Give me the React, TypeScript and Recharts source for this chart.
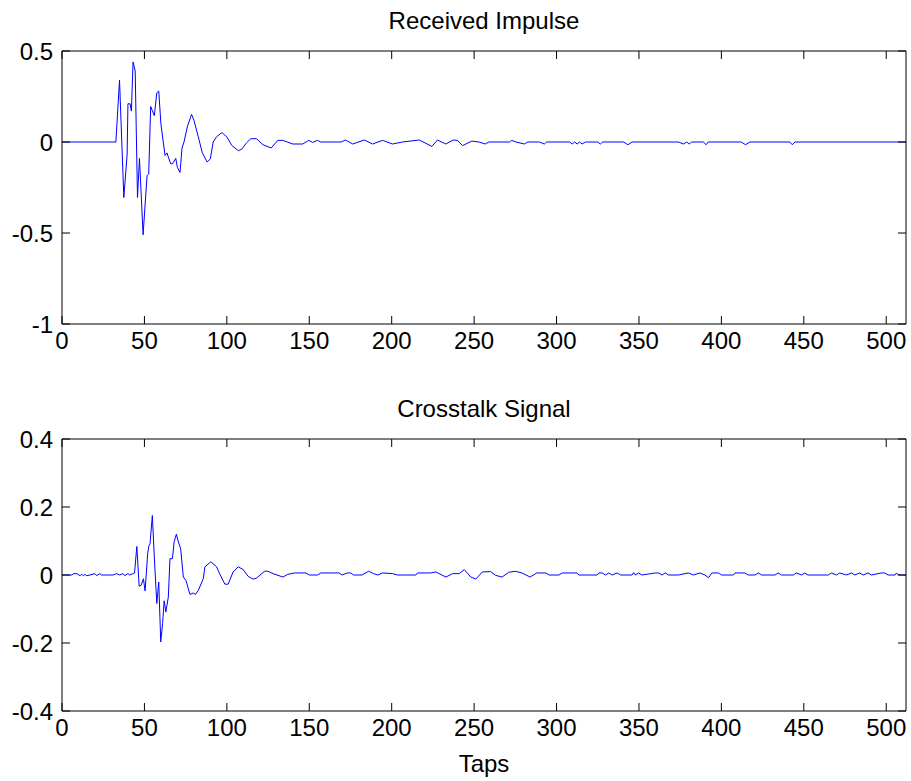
import React from 'react'
import { LineChart, Line, XAxis, YAxis } from 'recharts'

// tap positions / amplitudes
const impulseTaps = [
  0, 32.7, 34.9, 37.5, 39.5, 40, 41.3, 42.1, 43.1, 44.4,
  45.8, 47, 49.2, 51.6, 52.6, 53.8, 56, 57.5, 58.7, 60,
  62.5, 63.7, 64.5, 66, 67, 69, 70, 71.6, 72.8, 74,
  76.2, 78.6, 80, 82.7, 85, 88, 90, 91.7, 93.7, 97,
  100, 103, 107, 109, 112, 114.5, 118, 121.9, 126.9, 130.9,
  133.9, 140, 146, 149.7, 152, 155, 157, 169.3, 171.9, 176.4,
  183.4, 188.4, 194.5, 200.5, 206.6, 216.7, 224.4, 227.8, 232.8, 237.3,
  239.9, 243, 248.6, 253, 256.7, 259, 271.4, 272.8, 275.4, 280.5,
  282.5, 289.6, 292.6, 294, 308, 309.5, 311, 312.5, 314, 315.5,
  317.6, 325, 326.6, 328, 340.7, 343.3, 345.8, 374, 377, 379,
  380.5, 382, 389, 390.8, 392, 412, 414.7, 417.3, 441.5, 443,
  444.6, 512,
]
const impulseValues = [
  0, 0, 0.34, -0.305, -0.07, 0.21, 0.21, 0.17, 0.44, 0.39,
  -0.305, -0.09, -0.51, -0.185, -0.175, 0.195, 0.145, 0.27, 0.28, 0.1,
  -0.074, -0.06, -0.083, -0.12, -0.12, -0.09, -0.14, -0.167, -0.033, 0,
  0.089, 0.152, 0.12, 0.028, -0.056, -0.11, -0.093, 0, 0.028, 0.052,
  0.028, -0.019, -0.048, -0.04, -0.004, 0.018, 0.018, -0.015, -0.033, 0.009,
  0.009, -0.011, -0.011, 0.009, -0.002, 0.009, 0, 0, 0.011, -0.011,
  0.011, -0.011, 0.009, -0.011, 0, 0.011, -0.024, 0.011, -0.011, 0.011,
  0.009, -0.02, 0.005, 0, -0.011, 0, 0, 0.009, 0, -0.011,
  0, 0, -0.011, 0, 0, -0.011, 0, -0.011, 0, -0.011,
  0, 0, -0.011, 0, 0, -0.015, 0, 0, -0.011, 0,
  -0.011, 0, 0, -0.015, 0, 0, -0.015, 0, 0, -0.015,
  0, 0,
]

const crosstalkTaps = [
  0, 6, 7, 9, 11, 12, 13, 14, 15, 17,
  20, 21, 23, 24, 31, 33, 35, 37, 38, 40,
  41, 43, 44, 45.4, 46.8, 48, 49.4, 50.4, 52, 52.8,
  53.4, 54.8, 56, 57.5, 58.7, 59.9, 61, 62, 63, 64.5,
  65.5, 67, 68, 69.4, 70.6, 72, 73.6, 75.2, 77.6, 79.6,
  81, 82.7, 85.7, 86.7, 90.3, 93.8, 95.8, 98.8, 100.8, 103.8,
  106.9, 109.9, 112.9, 115.8, 117.8, 122.9, 124.9, 128, 134, 137,
  141, 148, 150, 155, 157, 168, 170, 173, 175, 177,
  182, 186, 189, 191.5, 194.5, 200.5, 203.6, 214.7, 215.7, 223.8,
  226.8, 232.9, 236.9, 241, 244, 248, 251, 255, 260, 263,
  267, 271, 275, 279, 284, 288, 293.5, 295.5, 301.5, 303.5,
  312.5, 313.6, 324.7, 325.7, 327.7, 329.7, 331.7, 333.7, 336.8, 338.8,
  345.8, 346.8, 347.8, 349.8, 351.9, 359.9, 362, 364, 366, 368,
  374, 380, 383, 387, 390, 392.2, 394.2, 398.2, 400.2, 407.3,
  408.3, 414.3, 416.3, 420.4, 422.4, 424.4, 432.5, 434.5, 436.5, 443.6,
  445.6, 448.6, 450.6, 452.7, 464.8, 466.8, 469.8, 471.8, 475.9, 478.9,
  480.9, 483.9, 486, 489, 491, 497, 499, 501.2, 505.3, 506.3,
  507.3, 512,
]
const crosstalkValues = [
  0, 0, 0.004, 0.004, -0.002, 0.002, -0.002, 0.002, -0.002, 0,
  0.004, -0.002, 0.004, 0, 0, 0.004, 0, 0.004, -0.002, 0.004,
  0, 0.004, 0.006, 0.084, -0.033, -0.03, -0.011, -0.047, 0.065, 0.087,
  0.092, 0.175, 0.053, -0.084, -0.021, -0.197, -0.143, -0.076, -0.109, -0.065,
  0.048, 0.048, 0.097, 0.12, 0.097, 0.077, -0.006, -0.016, -0.057, -0.053,
  -0.057, -0.045, -0.011, 0.024, 0.039, 0.024, 0.002, -0.027, -0.027, 0.009,
  0.024, 0.016, -0.004, -0.012, -0.01, 0.011, 0.011, 0.004, -0.006, 0.002,
  0.006, 0.006, 0, 0, 0.006, 0.006, 0, 0.006, 0.006, 0,
  0, 0.011, 0.004, 0, 0.006, 0.004, 0, 0, 0.006, 0.006,
  0.009, -0.006, 0.004, 0.004, 0.016, -0.006, -0.012, 0.009, 0.01, -0.001,
  -0.006, 0.008, 0.011, 0.006, -0.006, 0.006, 0.006, 0, 0, 0.006,
  0.006, 0, 0, 0.006, 0.006, 0, 0.006, 0, 0.006, 0,
  0, 0.007, 0, 0.006, 0, 0.006, 0.006, 0, 0.006, 0,
  0, 0.006, 0, 0.006, 0, -0.008, 0.006, 0.006, 0, 0,
  0.006, 0.006, 0, 0, 0.006, 0, 0, 0.006, 0, 0,
  0.006, 0, 0.006, 0, 0, 0.006, 0, 0.006, 0, 0.006,
  0, 0.006, 0, 0.006, 0, 0.006, 0.006, 0, 0, 0.006,
  0, 0,
]

const xTicks = [0, 50, 100, 150, 200, 250, 300, 350, 400, 450, 500]
const impulseTicks = [-1, -0.5, 0, 0.5]
const crosstalkTicks = [-0.4, -0.2, 0, 0.2, 0.4]

const FONT = '"Liberation Sans", Arial, sans-serif'
const tickStyle = { fill: '#000', fontSize: 24, fontFamily: FONT }
// top/right axes only carry tick marks, no labels
const noLabel = () => <g />
const axisLine = { stroke: '#000', strokeWidth: 1 }

const W = 911

function Subplot({ taps, values, yTicks, height, top, plotH }: {
  taps: number[]
  values: number[]
  yTicks: number[]
  height: number
  top: number
  plotH: number
}) {
  const data = taps.map((t, i) => ({ tap: t, v: values[i] }))
  const yDomain = [yTicks[0], yTicks[yTicks.length - 1]]
  return (
    <LineChart
      width={W}
      height={height}
      data={data}
      margin={{ top: top - 2, right: 3, left: 0, bottom: 0 }}
    >
      <XAxis
        xAxisId="b"
        dataKey="tap"
        type="number"
        domain={[0, 512]}
        allowDataOverflow
        ticks={xTicks}
        interval={0}
        height={height - top - plotH}
        tickSize={-8}
        tickMargin={16}
        tick={tickStyle}
        axisLine={axisLine}
        tickLine={axisLine}
      />
      <XAxis
        xAxisId="t"
        dataKey="tap"
        orientation="top"
        type="number"
        domain={[0, 512]}
        allowDataOverflow
        ticks={xTicks}
        interval={0}
        height={2}
        tickSize={-8}
        tickMargin={0}
        tick={noLabel}
        axisLine={axisLine}
        tickLine={axisLine}
      />
      <YAxis
        yAxisId="l"
        type="number"
        domain={yDomain}
        allowDataOverflow
        ticks={yTicks}
        interval={0}
        width={62}
        tickSize={-8}
        tickMargin={17}
        tick={tickStyle}
        axisLine={axisLine}
        tickLine={axisLine}
      />
      <YAxis
        yAxisId="r"
        orientation="right"
        type="number"
        domain={yDomain}
        allowDataOverflow
        ticks={yTicks}
        interval={0}
        width={2}
        tickSize={-8}
        tickMargin={0}
        tick={noLabel}
        axisLine={axisLine}
        tickLine={axisLine}
      />
      <Line
        xAxisId="t"
        yAxisId="r"
        type="linear"
        dataKey="v"
        stroke="none"
        dot={false}
        activeDot={false}
        isAnimationActive={false}
      />
      <Line
        xAxisId="b"
        yAxisId="l"
        type="linear"
        dataKey="v"
        stroke="#0000ff"
        strokeWidth={1}
        dot={false}
        isAnimationActive={false}
      />
    </LineChart>
  )
}

const titleStyle: React.CSSProperties = {
  position: 'absolute',
  left: 62,
  width: 844,
  textAlign: 'center',
  fontFamily: FONT,
  fontSize: 24,
  lineHeight: '24px',
  color: '#000',
}

export default function App() {
  return (
    <div style={{ position: 'absolute', left: 0, top: 0, width: W, height: 781, background: '#fff' }}>
      <div style={{ position: 'absolute', left: 0, top: 0 }}>
        <Subplot taps={impulseTaps} values={impulseValues} yTicks={impulseTicks} height={390} top={51} plotH={273} />
      </div>
      <div style={{ position: 'absolute', left: 0, top: 390 }}>
        <Subplot taps={crosstalkTaps} values={crosstalkValues} yTicks={crosstalkTicks} height={391} top={49} plotH={272} />
      </div>
      <div style={{ ...titleStyle, top: 9 }}>Received Impulse</div>
      <div style={{ ...titleStyle, top: 397 }}>Crosstalk Signal</div>
      <div style={{ ...titleStyle, top: 752 }}>Taps</div>
    </div>
  )
}
